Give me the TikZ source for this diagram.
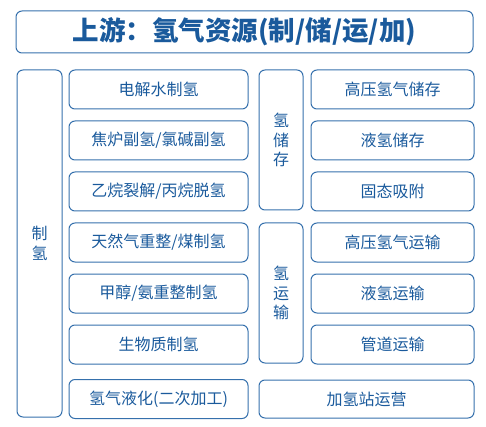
\documentclass[tikz,border=0pt]{standalone}
\usepackage{fontspec}
\setmainfont{Noto Sans CJK SC}
\definecolor{hblue}{HTML}{3570AC}
\definecolor{htext}{HTML}{1A5A9C}
\begin{document}
\begin{tikzpicture}[x=1pt, y=-1pt,
    every node/.style={draw=hblue, line width=1pt, rounded corners=6pt, text=htext,
      inner sep=0pt, align=center, font=\fontsize{16}{19.5}\selectfont},
    mid/.style={minimum width=179pt, minimum height=39pt},
    right/.style={minimum width=163pt, minimum height=39pt},
    tall/.style={minimum width=44pt, minimum height=140pt}]
    \useasboundingbox (0,0) rectangle (486,427);
    \def \r {51}
    % title
    \node[minimum width=457pt, minimum height=42pt, font=\fontsize{26.5}{30}\selectfont\bfseries]
      (title) at (244.5, 32) {上游：氢气资源(制/储/运/加)};
    % production
    \node[minimum width=45pt, minimum height=347pt] (zhi) at (39.5, 243.5) {制\\氢};
    \node[mid] (m1) at (158.5, 89.5) {电解水制氢};
    \node[mid] (m2) at (158.5, 89.5+1*\r) {焦炉副氢/氯碱副氢};
    \node[mid] (m3) at (158.5, 89.5+2*\r) {乙烷裂解/丙烷脱氢};
    \node[mid] (m4) at (158.5, 89.5+3*\r) {天然气重整/煤制氢};
    \node[mid] (m5) at (158.5, 89.5+4*\r) {甲醇/氨重整制氢};
    \node[mid] (m6) at (158.5, 89.5+5*\r) {生物质制氢};
    \node[mid] (m7) at (158.5, 399) {氢气液化(二次加工)};
    % storage and transport
    \node[tall] (chu) at (281, 140) {氢\\储\\存};
    \node[tall] (yun) at (281, 293) {氢\\运\\输};
    \node[right] (r1) at (392.5, 89.5) {高压氢气储存};
    \node[right] (r2) at (392.5, 89.5+1*\r) {液氢储存};
    \node[right] (r3) at (392.5, 89.5+2*\r) {固态吸附};
    \node[right] (r4) at (392.5, 89.5+3*\r) {高压氢气运输};
    \node[right] (r5) at (392.5, 89.5+4*\r) {液氢运输};
    \node[right] (r6) at (392.5, 89.5+5*\r) {管道运输};
    \node[minimum width=215pt, minimum height=38pt] (jia) at (366.5, 399) {加氢站运营};
\end{tikzpicture}
\end{document}
